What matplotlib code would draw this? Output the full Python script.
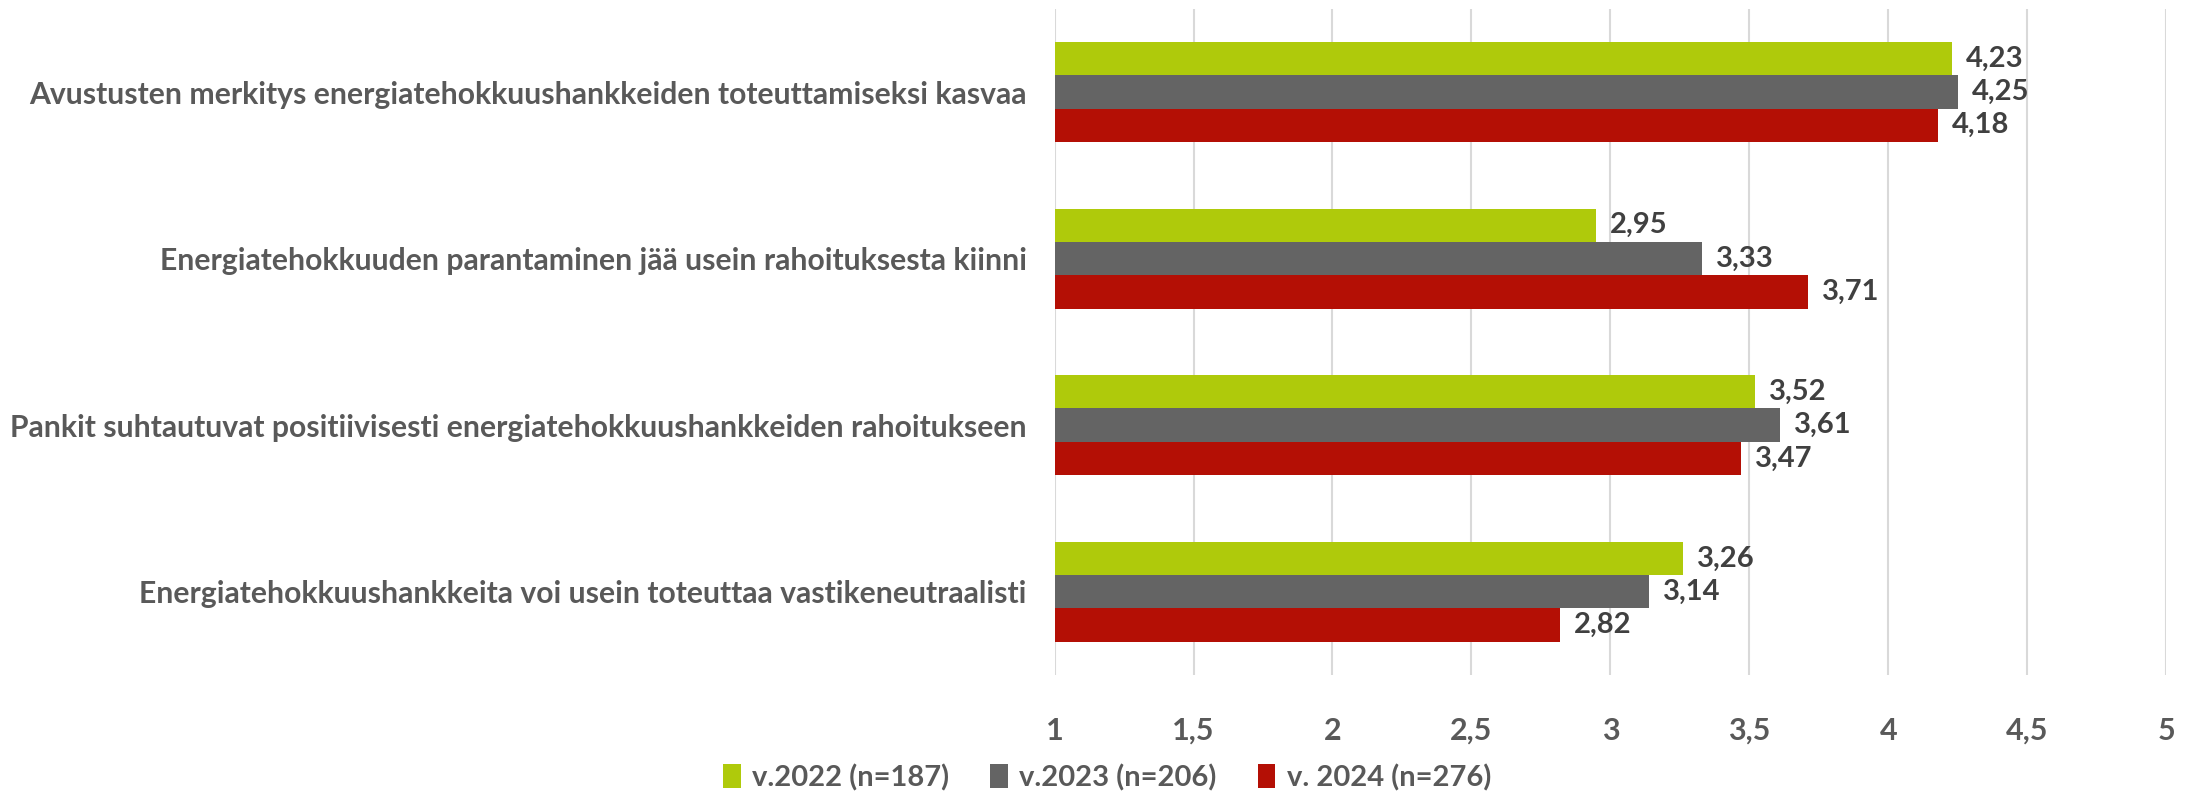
import matplotlib

matplotlib.use("Agg")
import matplotlib.pyplot as plt
import numpy as np

categories = [
    "Avustusten merkitys energiatehokkuushankkeiden toteuttamiseksi kasvaa",
    "Energiatehokkuuden parantaminen jää usein rahoituksesta kiinni",
    "Pankit suhtautuvat positiivisesti energiatehokkuushankkeiden rahoitukseen",
    "Energiatehokkuushankkeita voi usein toteuttaa vastikeneutraalisti",
]
series_names = ["v.2022 (n=187)", "v.2023 (n=206)", "v. 2024 (n=276)"]
values_2022 = [4.23, 2.95, 3.52, 3.26]
values_2023 = [4.25, 3.33, 3.61, 3.14]
values_2024 = [4.18, 3.71, 3.47, 2.82]
x_ticks = [1, 1.5, 2, 2.5, 3, 3.5, 4, 4.5, 5]
x_tick_labels = ["1", "1,5", "2", "2,5", "3", "3,5", "4", "4,5", "5"]

COLORS = ["#afca0b", "#646464", "#b40f05"]
TEXT = "#595959"
LABEL = "#404040"

plt.rcParams["font.family"] = ["Lato", "DejaVu Sans"]

fig = plt.figure(figsize=(21.88, 7.95), dpi=100, facecolor="white")
ax = fig.add_axes([0.482, 0.151, 0.508, 0.838])

series = [values_2022, values_2023, values_2024]
n = len(categories)
y = np.arange(n)
h = 0.2
for i, (vals, color, name) in enumerate(zip(series, COLORS, series_names)):
    pos = y + (i - 1) * h
    bars = ax.barh(pos, np.array(vals) - 1, left=1, height=h, color=color, label=name)
    for b, v in zip(bars, vals):
        ax.text(v + 0.05, b.get_y() + h / 2, f"{v:.2f}".replace(".", ","),
                va="center", ha="left", fontsize=21, fontweight="bold", color=LABEL)

ax.set_xlim(1, 5)
ax.set_ylim(n - 0.5, -0.5)
ax.set_xticks(x_ticks)
ax.set_xticklabels(x_tick_labels)
ax.set_yticks(y)
ax.set_yticklabels(categories)
ax.tick_params(axis="x", length=0, pad=30, labelsize=22, labelcolor=TEXT)
ax.tick_params(axis="y", length=0, pad=20, labelsize=21.7, labelcolor=TEXT)
for lab in ax.get_xticklabels() + ax.get_yticklabels():
    lab.set_fontweight("bold")
for s in ax.spines.values():
    s.set_visible(False)
ax.grid(axis="x", color="#d9d9d9", linewidth=1.5)
ax.set_axisbelow(True)

leg = fig.legend(loc="center", bbox_to_anchor=(0.506, 0.022), ncol=3, frameon=False,
                 prop={"size": 21, "weight": "bold"}, handlelength=0.6, handleheight=0.9,
                 columnspacing=1.4, handletextpad=0.4)
for t in leg.get_texts():
    t.set_color(TEXT)

fig.savefig("out.png", dpi=100, facecolor="white")
